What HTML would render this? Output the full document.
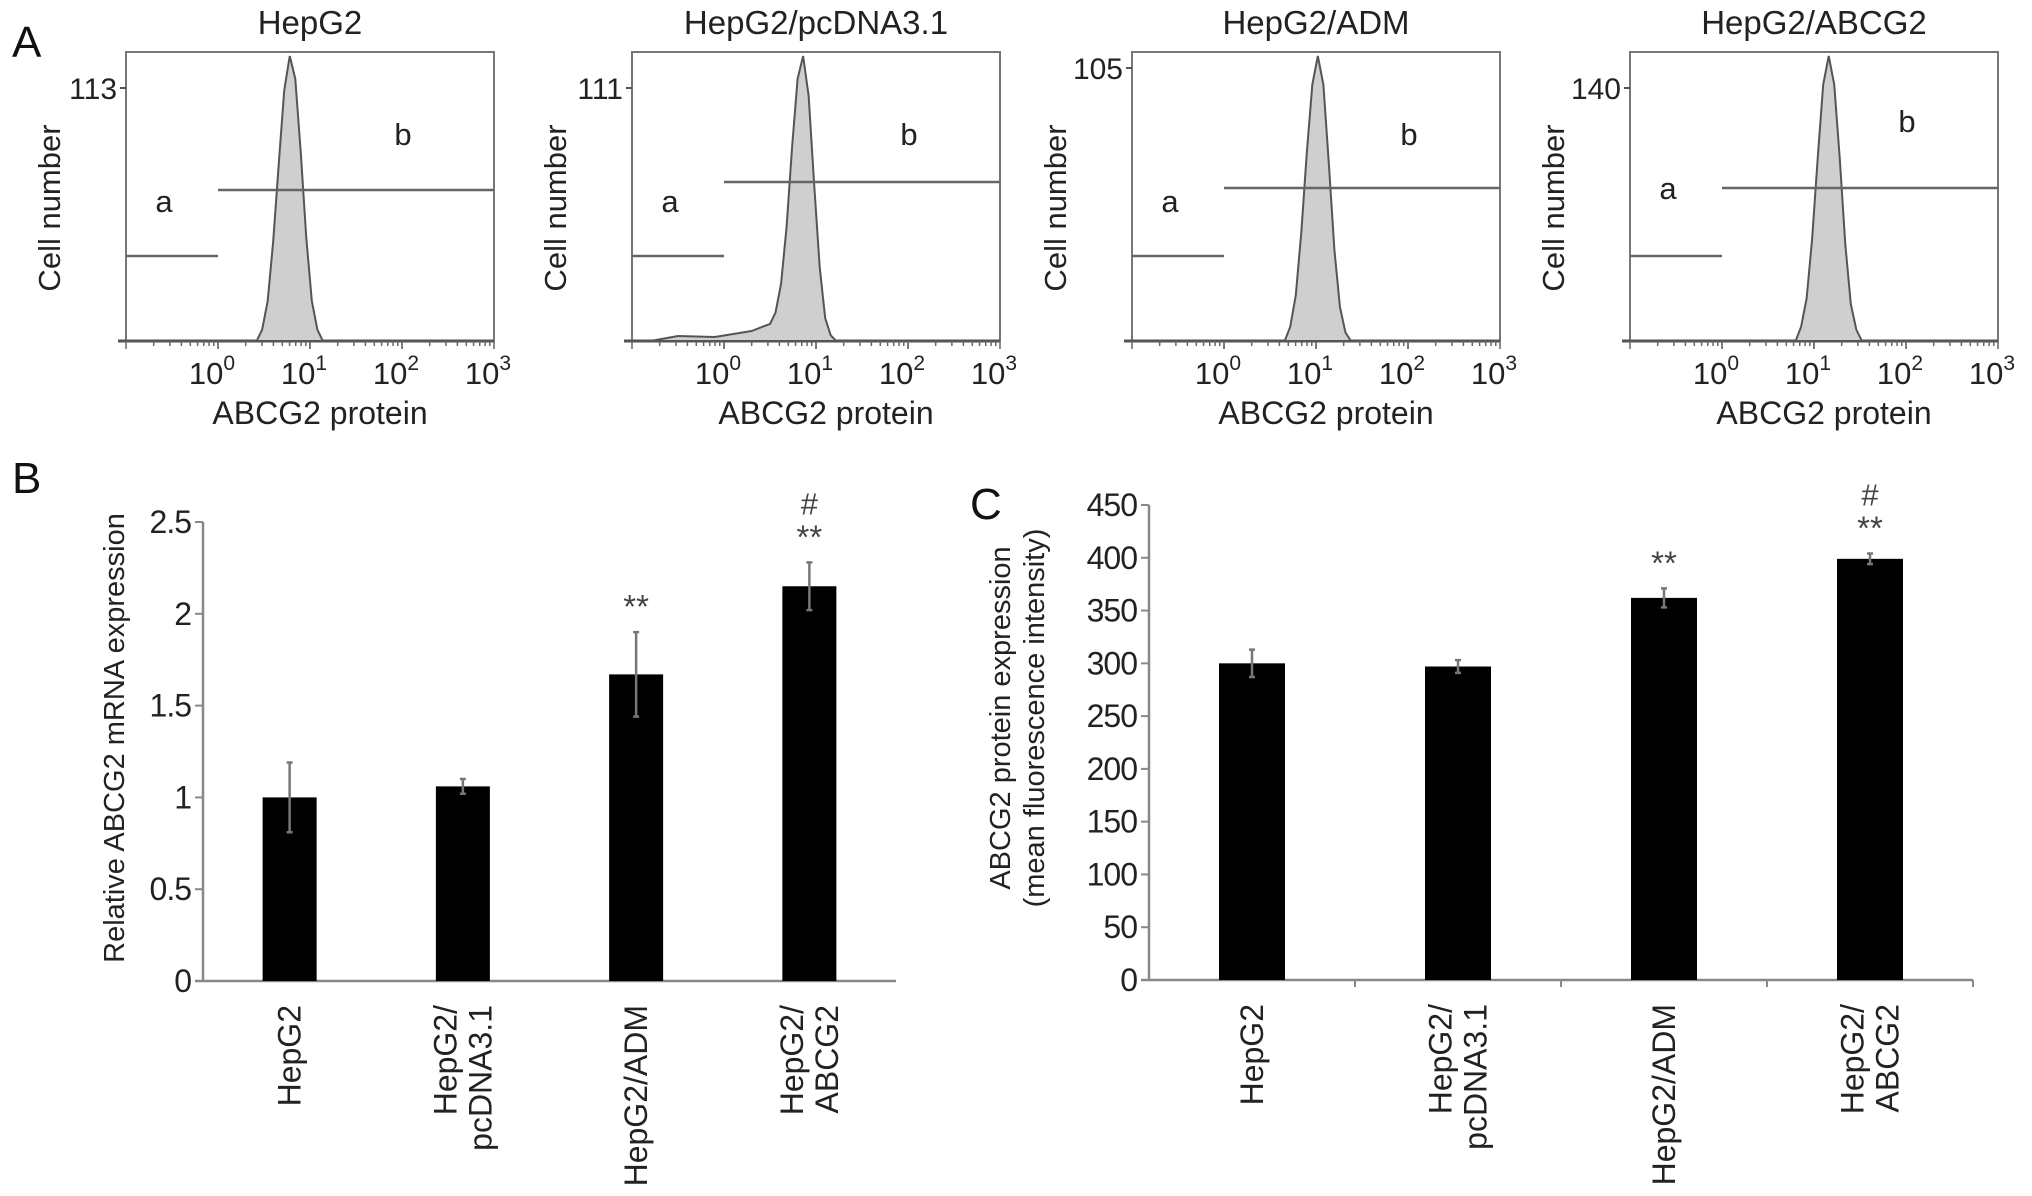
<!DOCTYPE html>
<html><head><meta charset="utf-8"><style>
html,body{margin:0;padding:0;background:#fff}
svg{display:block;font-family:"Liberation Sans",sans-serif}
</style></head><body>
<svg id="fig" width="2032" height="1196" viewBox="0 0 2032 1196" xmlns="http://www.w3.org/2000/svg">
<text x="12" y="57" font-size="44" fill="#111">A</text>
<text x="12" y="493" font-size="44" fill="#111">B</text>
<text x="970" y="519" font-size="44" fill="#111">C</text>
<g id="histos"></g>
<g id="chartB"></g>
<g id="chartC"></g>
</svg>
<script>
// ---- Panel A data ----
const histTitles = ["HepG2","HepG2/pcDNA3.1","HepG2/ADM","HepG2/ABCG2"];
const histMax = ["113","111","105","140"];
const histStartLog = [0.42, 0.50, 0.66, 0.80];
const histStep = 0.06;
const histCounts1 = [0,0.04,0.14,0.35,0.62,0.88,1.0,0.92,0.66,0.36,0.14,0.04,0];
const histCounts2 = [0.06,0.1,0.2,0.4,0.68,0.92,1.0,0.86,0.55,0.26,0.08,0.02,0];
const histCounts3 = [0,0.05,0.16,0.38,0.66,0.9,1.0,0.9,0.62,0.32,0.12,0.03,0];
const histCounts4 = [0,0.05,0.15,0.36,0.64,0.9,1.0,0.9,0.64,0.34,0.13,0.04,0];
const histCounts = [histCounts1,histCounts2,histCounts3,histCounts4];
const decadeLabels = ["0","1","2","3"];

const NS="http://www.w3.org/2000/svg";
function mk(tag,attrs,parent,text){const e=document.createElementNS(NS,tag);for(const k in attrs)e.setAttribute(k,attrs[k]);if(text!==undefined)e.textContent=text;parent.appendChild(e);return e;}

const boxL=[126,632,1132,1630], boxW=368, boxT=52, boxB=341;
const maxY=[88,88,68,88], gateBY=[190,182,188,188], gateAY=[256,256,256,256];
const letterAY=[201,201,201,188], letterBY=[134,134,134,121];
const H=document.getElementById('histos');
for(let p=0;p<4;p++){
  const g=mk('g',{},H);
  
  
  const L=boxL[p], dec=boxW/4;
  const lx=v=>L+(v+1)*dec;
  const t=mk('text',{x:L+boxW/2,y:34,'font-size':33,'text-anchor':'middle',fill:'#222'},g,histTitles[p]);
  
  
  const b=mk('rect',{x:L,y:boxT,width:boxW,height:boxB-boxT,fill:'none',stroke:'#777','stroke-width':2},g);
  
  
  mk('line',{x1:L-8,y1:boxB,x2:L+boxW,y2:boxB,stroke:'#555','stroke-width':3},g);
  for(let d=-1;d<3;d++){for(let m=1;m<=10;m++){const x=lx(d+Math.log10(m));mk('line',{x1:x,y1:boxB,x2:x,y2:boxB+(m==1||m==10?8:5),stroke:'#666','stroke-width':1.5},g);}}
  mk('line',{x1:L-6,y1:maxY[p],x2:L,y2:maxY[p],stroke:'#555','stroke-width':2},g);
  const ym=mk('text',{x:L-9,y:maxY[p]+11,'font-size':30,'text-anchor':'end',fill:'#222'},g,histMax[p]);
  
  
  const c=histCounts[p]; const top=boxT+4;
  let d='M'+lx(histStartLog[p]-histStep)+','+boxB;
  if(p==1){d='M'+lx(-0.8)+','+boxB+' L'+lx(-0.5)+','+(boxB-5)+' L'+lx(-0.1)+','+(boxB-4)+' L'+lx(0.3)+','+(boxB-10);}
  c.forEach((v,i)=>{d+=' L'+lx(histStartLog[p]+i*histStep)+','+(boxB-v*(boxB-top));});
  d+=' L'+lx(histStartLog[p]+c.length*histStep)+','+boxB+' Z';
  const hp=mk('path',{d:d,fill:'#cfcfcf',stroke:'#555','stroke-width':2},g);
  
  
  const ga=mk('line',{x1:L,y1:gateAY[p],x2:lx(0),y2:gateAY[p],stroke:'#666','stroke-width':2.5},g);
  
  
  const gb=mk('line',{x1:lx(0),y1:gateBY[p],x2:L+boxW,y2:gateBY[p],stroke:'#666','stroke-width':2.5},g);
  
  
  mk('text',{x:L+38,y:letterAY[p]+11,'font-size':31,'text-anchor':'middle',fill:'#222'},g,'a');
  mk('text',{x:L+277,y:letterBY[p]+11,'font-size':31,'text-anchor':'middle',fill:'#222'},g,'b');
  decadeLabels.forEach((e,i)=>{const x=lx(i);const tx=mk('text',{x:x-6,y:384,'font-size':31,'text-anchor':'middle',fill:'#222'},g);
    
    mk('tspan',{},tx,'10');mk('tspan',{'font-size':21,dy:-14},tx,e);});
  const xt=mk('text',{x:L+boxW/2+10,y:424,'font-size':32,'text-anchor':'middle',fill:'#222'},g,'ABCG2 protein');
  
  
  const yt=mk('text',{transform:'translate('+(L-66)+',208) rotate(-90)','font-size':31,'text-anchor':'middle',fill:'#222'},g,'Cell number');
  
  
}

// ---- Panel B data ----
const catLines = [["HepG2"],["HepG2/","pcDNA3.1"],["HepG2/ADM"],["HepG2/","ABCG2"]];
const mrnaValues = [1.0,1.06,1.67,2.15];
const mrnaErrors = [0.19,0.04,0.23,0.13];
const mrnaTicks = [0,0.5,1,1.5,2,2.5];
const mrnaTickLabels = ["0","0.5","1","1.5","2","2.5"];
const mrnaMarks = [[],[],["**"],["#","**"]];
// ---- Panel C data ----
const protValues = [300,297,362,399];
const protErrors = [13,6,9,5];
const protTicks = [0,50,100,150,200,250,300,350,400,450];
const protTickLabels = ["0","50","100","150","200","250","300","350","400","450"];
const protMarks = [[],[],["**"],["#","**"]];

function barChart(gid,o){
  const G=document.getElementById(gid);
  const y=v=>o.y0-(v-o.min)/(o.max-o.min)*(o.y0-o.y1);
  const band=(o.xR-o.xL)/o.vals.length;
  const ax=mk('line',{x1:o.xL,y1:o.y1,x2:o.xL,y2:o.y0,stroke:'#888','stroke-width':2.5},G);
  
  
  const bx=mk('line',{x1:o.xL-8,y1:o.y0,x2:o.xR,y2:o.y0,stroke:'#888','stroke-width':2.5},G);
  
  
  if(o.xticks){for(let i=1;i<=o.vals.length;i++){const x=o.xL+i*band;mk('line',{x1:x,y1:o.y0,x2:x,y2:o.y0+7,stroke:'#888','stroke-width':2},G);}}
  o.ticks.forEach((t,i)=>{mk('line',{x1:o.xL-8,y1:y(t),x2:o.xL,y2:y(t),stroke:'#888','stroke-width':2},G);
    const tl=mk('text',{x:o.xL-12,y:y(t)+11,'font-size':32,'text-anchor':'end',fill:'#222','letter-spacing':-1},G,o.tickLabels[i]);
    
    });
  o.vals.forEach((v,i)=>{const cx=o.xL+band*(i+0.5);
    const r=mk('rect',{x:cx-o.bw/2,y:y(v),width:o.bw,height:o.y0-y(v),fill:'#000'},G);
    
    
    const e=o.errs[i];
    const el=mk('path',{d:'M'+cx+','+y(v+e)+'V'+y(v-e)+'M'+(cx-3)+','+y(v+e)+'H'+(cx+3)+'M'+(cx-3)+','+y(v-e)+'H'+(cx+3),stroke:'#777','stroke-width':2.5,fill:'none'},G);
    
    
    const mk2=o.marks[i];
    mk2.forEach((s,j)=>{const yy=y(v+e)-14-(mk2.length-1-j)*34;
      const st=mk('text',{x:cx,y:yy,'font-size':s=='#'?31:33,'text-anchor':'middle',fill:'#444'},G,s);
      
      });
    const lines=o.cats[i];
    lines.forEach((ln,j)=>{const lx2=cx+(j-(lines.length-1)/2)*35+11;
      const ct=mk('text',{transform:'translate('+lx2+','+(o.y0+24)+') rotate(-90)','font-size':32,'text-anchor':'end',fill:'#222'},G,ln);
      
      });
  });
  o.titles.forEach((t,j)=>{const tt=mk('text',{transform:'translate('+(o.tx+j*34)+','+o.ty+') rotate(-90)','font-size':29,'text-anchor':'middle',fill:'#222'},G,t);
    
    });
}
barChart('chartB',{xL:203,xR:896,y0:981,y1:522,min:0,max:2.5,bw:54,vals:mrnaValues,errs:mrnaErrors,ticks:mrnaTicks,tickLabels:mrnaTickLabels,marks:mrnaMarks,cats:catLines,titles:["Relative ABCG2 mRNA expression"],tx:124,ty:738,xticks:false});
barChart('chartC',{xL:1149,xR:1973,y0:980,y1:505,min:0,max:450,bw:66,vals:protValues,errs:protErrors,ticks:protTicks,tickLabels:protTickLabels,marks:protMarks,cats:catLines,titles:["ABCG2 protein expression","(mean fluorescence intensity)"],tx:1010,ty:718,xticks:true});
</script>
</body></html>
